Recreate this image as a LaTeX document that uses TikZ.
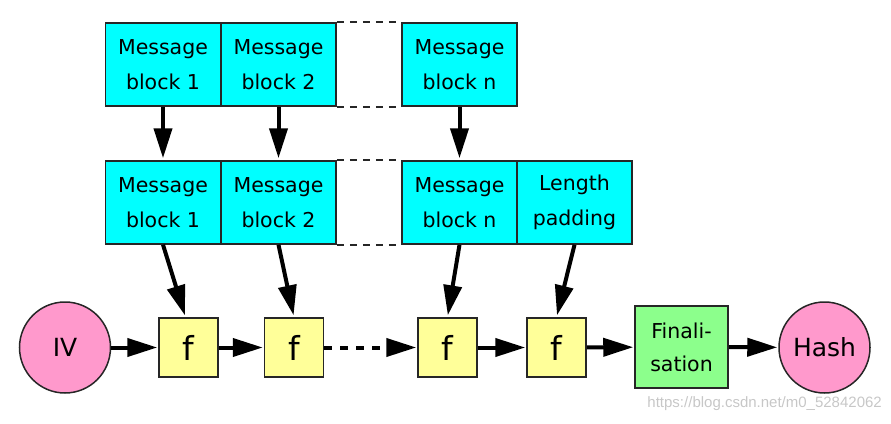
\documentclass[tikz,border=0pt]{standalone}
\usepackage{fontspec}
\setmainfont{DejaVu Sans}
\newfontfamily\wmfont{Liberation Sans}
\usetikzlibrary{arrows.meta}
\definecolor{cyanbox}{HTML}{00FFFF}
\definecolor{fbox}{HTML}{FFFF99}
\definecolor{finbox}{HTML}{8CFF8C}
\definecolor{pinkc}{HTML}{FF99CC}
\definecolor{edgec}{HTML}{262626}
\tikzset{
  msgbox/.style={draw=edgec, line width=1.5pt, fill=cyanbox, minimum width=115pt, minimum height=83pt, inner sep=0pt, align=center, font=\fontsize{20.5}{35}\selectfont},
  fnbox/.style={draw=edgec, line width=1.5pt, fill=fbox, minimum width=59pt, minimum height=59pt, inner sep=0pt, font=\fontsize{33}{36}\selectfont},
  finbox/.style={draw=edgec, line width=1.5pt, fill=finbox, minimum width=93pt, minimum height=82pt, inner sep=0pt, align=center, font=\fontsize{20.5}{33}\selectfont},
  endc/.style={circle, draw=edgec, line width=1.5pt, fill=pinkc, minimum size=91pt, inner sep=0pt, font=\fontsize{25}{28}\selectfont},
  conn/.style={line width=4pt, -{Triangle[length=30pt,width=18pt]}},
  gapline/.style={line width=1.6pt, draw=black!85, dash pattern=on 7pt off 6pt}
}
\begin{document}
\begin{tikzpicture}[x=1pt,y=-1pt]
\useasboundingbox (0,0) rectangle (891,423);
% top row
\node[msgbox] (t1) at (163,64.5) {Message\\block 1};
\node[msgbox] (t2) at (278.5,64.5) {Message\\block 2};
\node[msgbox] (tn) at (459.5,64.5) {Message\\block n};
% middle row
\node[msgbox] (m1) at (163,202.5) {Message\\block 1};
\node[msgbox] (m2) at (278.5,202.5) {Message\\block 2};
\node[msgbox] (mn) at (459.5,202.5) {Message\\block n};
\node[msgbox] (ml) at (574.5,202.5) {Length\\padding};
% dashed gaps
\draw[gapline] (t2.north east) -- (tn.north west);
\draw[gapline] (t2.south east) -- (tn.south west);
\draw[gapline] (m2.north east) -- (mn.north west);
\draw[gapline] (m2.south east) -- (mn.south west);
% bottom row
\node[endc] (iv) at (65,347.5) {IV};
\node[fnbox] (f1) at (188.5,347.5) {f};
\node[fnbox] (f2) at (294,347.5) {f};
\node[fnbox] (f3) at (447.5,347.5) {f};
\node[fnbox] (f4) at (556.5,347.5) {f};
\node[finbox] (fin) at (681.5,347) {Finali-\\sation};
\node[endc] (hash) at (824.5,347.5) {Hash};
% vertical arrows
\draw[conn, shorten >=2pt] (t1.south) -- (m1.north);
\draw[conn, shorten >=2pt] (t2.south) -- (m2.north);
\draw[conn, shorten >=2pt] (tn.south) -- (mn.north);
% slanted arrows
\draw[conn, shorten >=2pt] (m1.south) -- ([xshift=-3pt]f1.north);
\draw[conn, shorten >=2pt] (m2.south) -- (f2.north);
\draw[conn, shorten >=2pt] (mn.south) -- (f3.north);
\draw[conn, shorten >=2pt] (ml.south) -- (f4.north);
% horizontal chain
\draw[conn, shorten >=1pt] (iv) -- (f1);
\draw[conn, shorten >=1pt] (f1) -- (f2);
\draw[conn, shorten >=1pt, dash pattern=on 8pt off 8pt] (f2) -- (f3);
\draw[conn, shorten >=1pt] (f3) -- (f4);
\draw[conn, shorten >=1pt] (f4) -- (fin);
\draw[conn, shorten >=1pt] (fin) -- (hash);
% watermark
\node[anchor=east, text=black!22, font=\wmfont\fontsize{15}{17}\selectfont, inner sep=0pt] (wm) at (882,404) {https://blog.csdn.net/m0\_52842062};
\end{tikzpicture}
\end{document}
